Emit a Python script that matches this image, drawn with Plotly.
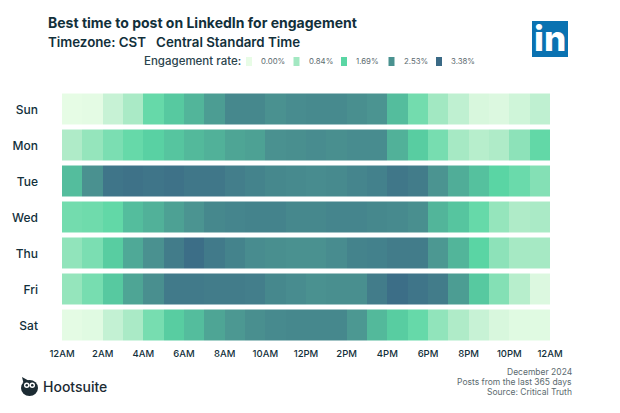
import plotly.graph_objects as go

# page has an 8px body margin, so the figure is that much smaller and positions are shifted
PAGE_MARGIN = 8
W = 620 - PAGE_MARGIN
H = 413 - PAGE_MARGIN

days = ["Sun", "Mon", "Tue", "Wed", "Thu", "Fri", "Sat"]
hours = [h + 0.5 for h in range(24)]
tick_hours = [0, 2, 4, 6, 8, 10, 12, 14, 16, 18, 20, 22, 24]
tick_labels = ["12AM", "2AM", "4AM", "6AM", "8AM", "10AM", "12PM", "2PM", "4PM", "6PM", "8PM", "10PM", "12AM"]

sun = [0.02, 0.05, 0.40, 0.75, 1.55, 1.85, 2.10, 2.40, 2.75, 2.75, 2.55, 2.65, 2.70, 2.70, 2.60, 2.50, 2.00, 1.40, 0.85, 0.50, 0.20, 0.15, 0.30, 0.50]
mon = [0.70, 1.00, 1.30, 1.55, 1.75, 1.90, 2.05, 2.15, 2.30, 2.35, 2.55, 2.60, 2.65, 2.60, 2.65, 2.65, 2.15, 1.80, 1.35, 0.80, 0.60, 0.70, 1.10, 1.60]
tue = [2.00, 2.55, 3.15, 3.20, 3.15, 3.20, 3.10, 3.10, 2.95, 2.85, 2.75, 2.70, 2.65, 2.70, 2.80, 2.90, 3.10, 3.00, 2.50, 2.20, 1.95, 1.70, 1.50, 1.20]
wed = [1.40, 1.45, 1.60, 2.00, 2.15, 2.35, 2.50, 2.75, 2.80, 2.85, 2.85, 2.75, 2.75, 2.80, 2.80, 2.75, 2.70, 2.60, 2.10, 1.90, 1.55, 1.00, 0.70, 0.75]
thu = [1.05, 1.30, 1.80, 2.25, 2.55, 3.00, 3.30, 3.05, 2.85, 2.65, 2.60, 2.55, 2.55, 2.65, 2.85, 2.90, 3.00, 3.00, 2.45, 2.10, 1.70, 1.10, 0.80, 0.80]
fri = [1.00, 1.35, 1.85, 2.30, 2.60, 3.05, 3.05, 3.00, 3.00, 2.95, 2.75, 2.65, 2.55, 2.60, 2.60, 3.00, 3.30, 3.15, 3.00, 2.40, 1.85, 1.20, 0.60, 0.15]
sat = [0.05, 0.10, 0.45, 0.75, 1.35, 1.80, 2.00, 2.30, 2.45, 2.60, 2.70, 2.75, 2.75, 2.75, 2.45, 2.05, 1.80, 1.55, 1.05, 0.70, 0.40, 0.20, 0.10, 0.10]

legend_values = [0.0, 0.84, 1.69, 2.53, 3.38]
legend_labels = ["0.00%", "0.84%", "1.69%", "2.53%", "3.38%"]
legend_colors = ["#e8fce6", "#a3e8c2", "#5ad6a4", "#4a9290", "#3b6a86"]

DARK = "#12303b"
GREY = "#5c6b70"
FONT = "Inter, Open Sans, sans-serif"


def px_x(p):
    return (p - PAGE_MARGIN) / W


def px_y(p):
    return 1 - (p - PAGE_MARGIN) / H


colorscale = [[v / legend_values[-1], c] for v, c in zip(legend_values, legend_colors)]

fig = go.Figure(go.Heatmap(
    z=[sun, mon, tue, wed, thu, fri, sat],
    x=hours,
    y=days,
    zmin=0,
    zmax=legend_values[-1],
    colorscale=colorscale,
    showscale=False,
    ygap=5,
    hoverongaps=False,
))

shapes = []
annotations = []


def text(x, y, s, size, color=DARK, anchor="left", weight=400):
    annotations.append(dict(
        x=px_x(x), y=px_y(y), xref="paper", yref="paper", text=s, showarrow=False,
        xanchor=anchor, yanchor="middle", align=anchor, borderpad=0,
        font=dict(family=FONT, size=size, color=color, weight=weight),
    ))


def box(x0, y0, x1, y1, color, kind="rect"):
    shapes.append(dict(
        type=kind, xref="paper", yref="paper", x0=px_x(x0), x1=px_x(x1),
        y0=px_y(y0), y1=px_y(y1), fillcolor=color, line_width=0,
    ))


def triangle(points, color):
    path = "M " + " L ".join(f"{px_x(x)},{px_y(y)}" for x, y in points) + " Z"
    shapes.append(dict(type="path", xref="paper", yref="paper", path=path, fillcolor=color, line_width=0))


# titles
text(47, 23, "Best time to post on LinkedIn for engagement", 14, weight=700)
text(47, 42, "Timezone: CST   Central Standard Time", 13.3, weight=600)

# legend
text(143, 61, "Engagement rate:", 11.5, color="#2b444d", weight=500)
for i, (lab, col) in enumerate(zip(legend_labels, legend_colors)):
    x0 = 246 + i * 47.5
    box(x0, 57, x0 + 6, 66, col)
    text(x0 + 14, 61.5, lab, 7.8, color=GREY)

# linkedin logo
box(532, 21, 568, 57, "#0a72b1")
text(550, 38, "in", 35, color="#ffffff", anchor="center", weight=800)

# hootsuite logo
triangle([(22, 377), (31, 382), (24, 385)], "#1c2b33")
box(21, 380, 38, 396, "#1c2b33", "circle")
box(24, 382.5, 29.5, 388, "#ffffff", "circle")
box(29.5, 382.5, 35, 388, "#ffffff", "circle")
box(25.5, 384, 28, 386.5, "#1c2b33", "circle")
box(31, 384, 33.5, 386.5, "#1c2b33", "circle")
text(42, 386, "Hootsuite", 14, color="#1c2b33", weight=500)

# source notes
text(573, 372, "December 2024", 8.5, color=GREY, anchor="right")
text(573, 382, "Posts from the last 365 days", 8.5, color=GREY, anchor="right")
text(573, 392, "Source: Critical Truth", 8.5, color=GREY, anchor="right")

fig.update_layout(
    width=W,
    height=H,
    margin=dict(l=0, r=0, t=0, b=0),
    paper_bgcolor="white",
    plot_bgcolor="white",
    font=dict(family=FONT, color=DARK),
    shapes=shapes,
    annotations=annotations,
    xaxis=dict(
        domain=[px_x(62), px_x(550)], range=[0, 24], tickmode="array", automargin=False,
        tickvals=tick_hours, ticktext=tick_labels, showgrid=False, zeroline=False,
        showline=False, ticks="", anchor="y", tickfont=dict(size=9.5, weight=500, color=DARK),
        ticklabelstandoff=3,
    ),
    yaxis=dict(
        domain=[px_y(343.5), px_y(91.5)], autorange="reversed", showgrid=False, automargin=False,
        zeroline=False, showline=False, ticks="", tickfont=dict(size=12, weight=500, color=DARK),
        ticklabelstandoff=23,
    ),
)

fig.write_html("out.html")
